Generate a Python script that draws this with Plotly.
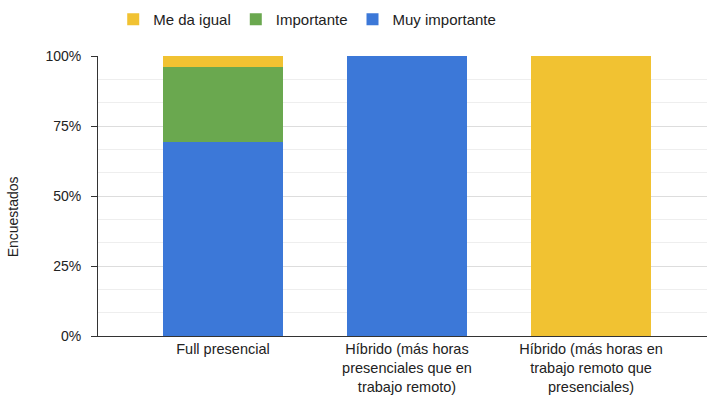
import plotly.graph_objects as go

categories = [
    "Full presencial",
    "Híbrido (más horas<br>presenciales que en<br>trabajo remoto)",
    "Híbrido (más horas en<br>trabajo remoto que<br>presenciales)",
]
muy_importante = [69.2, 100, 0]
importante = [26.9, 0, 0]
me_da_igual = [3.9, 0, 100]

series = [
    ("Muy importante", muy_importante, "#3C78D8"),
    ("Importante", importante, "#6AA84F"),
    ("Me da igual", me_da_igual, "#F1C232"),
]

fig = go.Figure()
for name, vals, color in series:
    fig.add_trace(go.Bar(
        x=list(range(len(categories))), y=vals, name=name,
        marker=dict(color=color, line=dict(width=0)),
        width=0.65,
    ))

fig.add_annotation(
    text="Encuestados", textangle=-90,
    xref="paper", yref="paper", x=-0.139, y=0.425,
    xanchor="center", yanchor="middle", showarrow=False,
    font=dict(size=14, color="#222222"),
)

fig.update_layout(
    width=707, height=397,
    barmode="stack",
    paper_bgcolor="white", plot_bgcolor="white",
    margin=dict(l=98, r=0, t=56, b=61, autoexpand=False),
    font=dict(family="Arial, Liberation Sans, sans-serif", size=14, color="#444444"),
    showlegend=True,
    legend=dict(
        orientation="h", traceorder="reversed",
        x=0.025, y=1.13, xanchor="left", yanchor="middle",
        font=dict(size=15, color="#222222"),
        itemwidth=30,
    ),
    xaxis=dict(
        tickmode="array", tickvals=list(range(len(categories))), ticktext=categories,
        range=[-0.679, 2.63],
        showgrid=False, zeroline=False,
        showline=True, linecolor="#333333", linewidth=1,
        ticks="", tickfont=dict(size=14.5, color="#222222"),
    ),
    yaxis=dict(
        range=[0, 100],
        tickvals=[0, 25, 50, 75, 100],
        ticktext=["0%", "25%", "50%", "75%", "100%"],
        showgrid=True, gridcolor="#dddddd", gridwidth=1,
        minor=dict(dtick=25 / 3, showgrid=True, gridcolor="#eeeeee", ticks=""),
        zeroline=False,
        showline=True, linecolor="#333333", linewidth=1,
        ticks="outside", ticklen=6, tickcolor="#333333",
        ticklabelstandoff=7,
        tickfont=dict(size=14, color="#222222"),
    ),
)

fig.write_html("out.html")
